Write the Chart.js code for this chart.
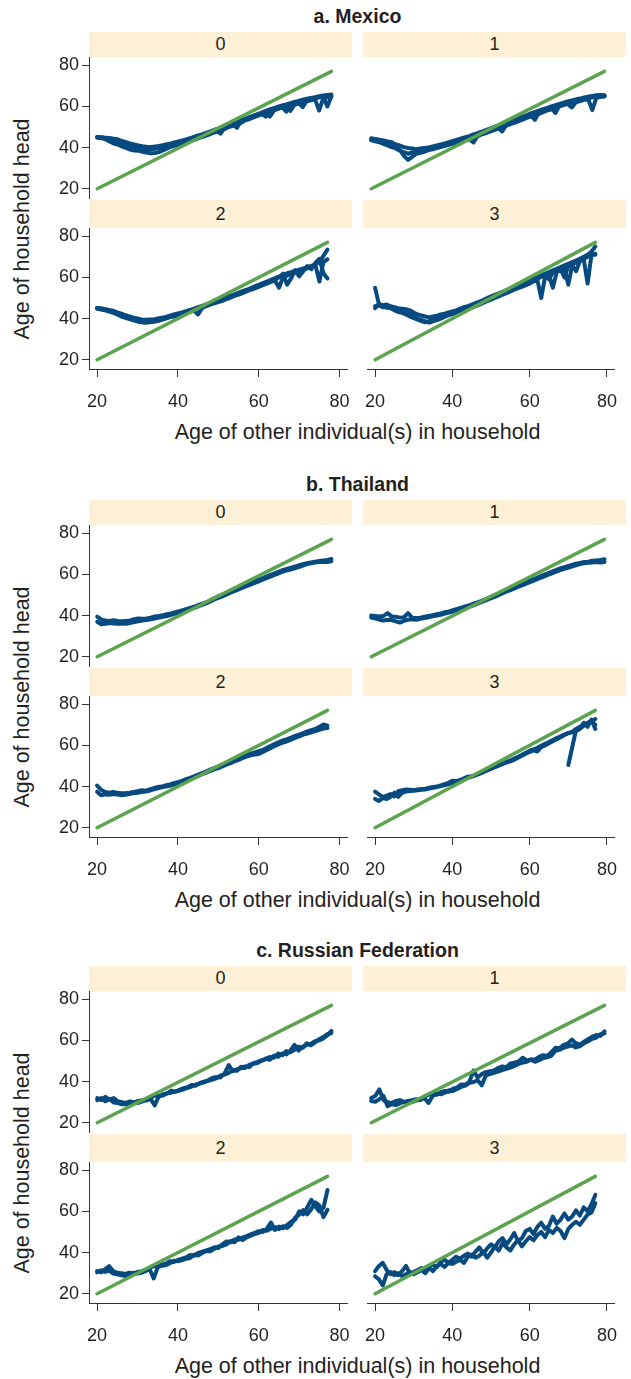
<!DOCTYPE html>
<html>
<head>
<meta charset="utf-8">
<script src="https://cdn.jsdelivr.net/npm/chart.js@4.4.1/dist/chart.umd.min.js"></script>
<style>
  body { margin: 0; background: #fff; width: 631px; height: 1379px; position: relative; overflow: hidden;
         font-family: "Liberation Sans", Arial, sans-serif; color: #231f20; }
  canvas { position: absolute; }
  .sec { position: absolute; left: 89px; width: 537px; text-align: center; font-weight: bold; font-size: 19.5px; line-height: 22px; }
  .strip { position: absolute; background: #fdf0d6; text-align: center; font-size: 18px; }
  .xt { position: absolute; left: 89px; width: 537px; text-align: center; font-size: 21.5px; line-height: 26px; }
  .yt { position: absolute; width: 300px; text-align: center; font-size: 21.5px; line-height: 26px; transform: rotate(-90deg); }
</style>
</head>
<body>
<script>
const ages = [20,21,22,23,24,25,26,27,28,29,30,31,32,33,34,35,36,37,38,39,40,41,42,43,44,45,46,47,48,49,
  50,51,52,53,54,55,56,57,58,59,60,61,62,63,64,65,66,67,68,69,70,71,72,73,74,75,76,77];
const diagX = [20, 77];
const diagY = [20, 77];
const xTicks = [20, 40, 60, 80];
const yTicks = [20, 40, 60, 80];
const panelNames = ["0", "1", "2", "3"];

// a. Mexico
const mex0a = [45.2,45.0,44.8,44.6,44.3,44.0,43.2,42.6,42.0,41.5, 41.0,40.6,40.4,40.3,40.5,40.8,41.2,41.6,42.0,42.6,
  43.1,43.6,44.2,44.8,45.5,46.1,46.8,47.5,48.2,48.9, 49.6,50.3,51.0,51.8,52.5,53.3,54.0,54.8,55.5,56.3,
  57.0,57.8,58.5,59.2,59.9,60.5,61.0,61.6,62.2,62.7, 63.2,63.7,64.1,64.5,65.0,65.3,65.6,65.8];
const mex0b = [44.8,44.6,44.0,43.0,42.0,41.5,40.5,39.8,39.0,38.6, 38.5,38.0,37.6,37.2,37.4,37.8,38.6,39.6,40.4,41.0,
  41.6,42.0,42.8,43.5,44.0,44.8,45.4,46.2,47.0,47.6, 48.6,49.0,50.0,50.6,51.5,52.0,53.2,53.8,54.6,55.4,
  56.2,57.0,55.0,58.0,58.8,59.5,60.0,57.8,60.8,61.4, 61.8,62.5,63.0,63.4,58.0,64.0,64.4,64.6];
const mex0c = [45.0,44.9,44.5,44.0,43.6,43.0,42.0,41.2,40.4,39.8, 39.5,39.2,39.0,39.2,39.4,39.8,40.2,40.8,41.4,42.0,
  42.4,43.0,43.6,44.0,44.8,45.4,46.2,46.8,47.4,48.2, 46.8,49.6,50.4,51.2,49.6,52.8,53.6,54.2,55.0,55.8,
  56.4,55.0,57.6,58.4,59.0,59.6,57.4,60.6,61.2,61.8, 59.6,62.8,63.2,63.8,64.4,64.8,60.0,65.0];
const mex1a = [44.5,44.2,43.8,43.4,43.0,42.6,41.5,41.0,40.2,39.8, 39.5,39.2,39.5,39.8,40.0,40.5,41.0,41.5,42.0,42.6,
  43.2,43.8,44.4,45.0,45.6,46.4,47.0,47.8,48.5,49.2, 50.0,50.6,51.4,52.0,52.8,53.6,54.3,55.0,55.8,56.6,
  57.3,58.0,58.7,59.3,60.0,60.6,61.2,61.8,62.4,62.9, 63.4,63.8,64.3,64.7,65.1,65.4,65.6,65.4];
const mex1b = [43.5,43.0,42.6,41.8,41.0,40.2,39.6,38.5,37.8,37.0, 37.6,38.0,38.2,38.6,39.0,39.4,40.0,40.5,41.0,41.5,
  42.0,42.6,43.2,43.8,44.3,45.0,45.6,46.4,47.0,47.8, 48.5,49.2,49.8,50.6,51.4,52.0,52.8,53.6,54.4,55.0,
  55.8,56.4,57.2,58.0,58.6,59.2,60.0,60.6,61.2,59.5, 62.0,62.6,63.2,63.6,58.2,64.2,64.6,64.8];
const mex1c = [44.0,43.5,43.0,42.4,41.8,40.5,40.0,39.0,36.0,34.0, 35.5,37.0,37.5,38.0,38.8,39.2,39.8,40.2,40.8,41.4,
  42.0,42.5,43.0,43.6,44.0,42.5,45.8,46.6,47.2,48.0, 48.8,49.5,47.8,51.0,51.8,52.5,53.4,54.2,55.0,55.6,
  53.5,57.2,57.8,58.5,59.2,56.8,60.4,61.0,61.6,62.0, 62.8,63.2,63.6,64.0,64.4,64.8,65.0,65.2];
const mex2a = [45.2,45.0,44.6,44.2,43.8,43.0,42.4,41.6,41.0,40.4, 40.0,39.6,39.4,39.5,39.6,40.0,40.4,40.8,41.4,42.0,
  42.5,43.0,43.6,44.2,44.8,45.5,46.2,46.9,47.6,48.3, 49.0,49.7,50.4,51.1,51.8,52.6,53.3,54.0,54.8,55.6,
  56.4,57.2,58.0,58.8,59.6,60.4,61.2,62.0,62.5,63.2, 63.8,64.4,65.0,65.6,66.4,67.5,70.5,73.5];
const mex2b = [44.8,44.4,44.0,43.4,42.8,42.0,41.0,40.4,39.8,39.2, 38.6,38.2,38.0,38.2,38.4,38.8,39.4,40.0,40.6,41.0,
  41.6,42.2,42.8,43.4,43.8,42.0,45.2,46.0,46.8,47.4, 48.0,48.6,49.4,50.2,51.0,51.6,52.4,53.2,54.0,54.6,
  55.4,56.2,57.0,57.8,58.6,55.0,60.0,60.8,61.6,62.4, 63.0,63.8,64.4,65.0,66.0,58.0,67.5,68.8];
const mex2c = [45.0,44.7,44.3,43.8,43.2,42.5,41.8,41.0,40.3,39.8, 39.3,39.0,38.8,39.0,39.2,39.5,39.9,40.4,41.0,41.6,
  42.0,42.6,43.2,43.8,44.3,45.0,45.7,46.4,47.1,47.8, 48.5,49.2,49.8,50.6,51.4,52.0,52.8,53.6,54.4,55.0,
  55.8,56.6,57.4,58.2,59.0,60.0,61.8,56.5,59.5,63.5, 60.5,63.0,65.5,64.0,67.0,69.0,62.0,59.5];
const mex3a = [55.0,47.0,46.5,46.8,46.0,45.5,45.0,44.8,44.5,44.0, 43.0,42.0,41.5,41.0,40.6,41.0,41.4,42.0,42.4,43.0,
  43.5,44.0,44.8,45.5,46.0,46.8,47.5,48.2,49.0,50.0, 50.8,51.5,52.2,53.0,53.8,54.6,55.5,56.2,57.0,57.8,
  58.6,59.4,60.2,61.0,61.8,62.6,63.4,64.2,65.0,65.8, 66.6,67.4,68.2,69.0,70.0,71.0,72.5,75.0];
const mex3b = [45.0,47.2,46.0,45.2,45.5,44.6,44.2,43.4,43.0,42.0, 41.2,40.0,39.4,38.6,38.0,38.6,39.2,40.0,40.8,41.6,
  42.2,43.0,43.4,44.2,44.8,45.4,46.0,46.8,47.6,48.4, 49.2,50.0,50.8,51.6,52.4,53.2,54.0,54.8,55.4,56.2,
  57.0,58.0,58.8,50.0,60.4,61.2,55.0,62.6,63.4,64.2, 56.5,66.0,63.0,68.0,68.8,57.0,71.0,71.5];
const mex3c = [46.0,46.5,45.5,46.0,45.0,44.0,43.2,42.8,42.0,41.0, 40.2,39.5,38.8,38.2,38.8,39.5,40.2,40.8,41.5,42.0,
  42.8,43.4,44.0,44.8,45.2,46.0,46.8,47.4,48.2,49.0, 49.8,50.6,51.4,52.2,53.0,53.6,54.6,55.4,56.2,57.0,
  57.8,58.6,59.4,60.2,61.0,59.0,62.6,63.4,64.0,60.0, 65.6,66.4,67.2,68.0,69.0,70.0,71.0,71.0];

// b. Thailand
const tha0a = [39.5,38.0,37.6,37.4,37.8,37.4,37.2,37.4,37.6,38.2, 38.6,38.4,38.6,39.0,39.6,39.8,40.2,40.6,41.0,41.6,
  42.2,42.8,43.4,44.0,44.6,45.4,46.0,46.8,48.0,48.9, 49.8,50.6,51.5,52.4,53.2,54.0,54.8,55.6,56.4,57.2,
  58.0,58.8,59.6,60.4,61.2,62.0,62.6,63.2,63.8,64.4, 65.0,65.4,65.8,66.2,66.5,66.8,67.0,67.5];
const tha0b = [37.0,35.8,36.0,36.4,36.2,36.0,36.2,36.0,36.4,36.8, 37.2,37.6,37.8,38.2,38.6,39.0,39.4,39.8,40.4,41.0,
  41.6,42.2,42.8,43.4,44.0,44.8,45.6,46.4,47.4,48.2, 49.0,49.8,50.7,51.6,52.4,53.2,54.0,54.8,55.6,56.4,
  57.2,58.0,58.8,59.6,60.4,61.2,61.8,62.4,63.0,63.6, 64.2,65.0,65.4,65.8,66.0,66.2,66.0,66.4];
const tha1a = [40.0,39.8,39.6,39.8,41.2,39.6,39.4,39.0,39.2,41.2, 39.0,38.8,39.0,39.4,39.8,40.2,40.6,41.0,41.6,42.0,
  42.6,43.2,43.8,44.4,45.0,45.8,46.4,47.2,48.0,48.9, 49.8,50.6,51.5,52.4,53.2,54.0,54.8,55.6,56.4,57.2,
  58.0,58.8,59.6,60.4,61.2,62.0,62.8,63.4,64.0,64.6, 65.2,65.6,66.0,66.2,66.6,66.8,67.0,67.4];
const tha1b = [39.0,38.6,38.0,37.6,38.0,37.8,37.2,36.6,37.4,38.0, 38.2,38.0,38.4,38.8,39.2,39.6,40.0,40.4,41.0,41.5,
  42.0,42.6,43.2,43.8,44.4,45.0,45.8,46.6,47.4,48.2, 49.0,49.8,50.7,51.6,52.4,53.2,54.0,54.8,55.6,56.4,
  57.2,58.0,58.8,59.6,60.4,61.2,62.0,62.6,63.2,63.8, 64.4,65.0,65.4,65.6,65.8,66.0,65.8,66.0];
const tha2a = [40.5,38.5,37.4,37.0,37.4,37.0,36.8,36.8,37.0,37.4, 37.8,38.2,38.0,38.6,39.2,39.8,40.0,40.6,41.0,41.6,
  42.2,42.8,43.6,44.2,45.0,45.8,46.6,47.4,48.2,49.0, 49.8,50.6,51.4,52.2,53.0,53.8,54.6,55.4,56.0,56.6,
  57.2,57.8,58.8,59.8,60.8,61.6,62.4,63.0,63.8,64.6, 65.2,66.0,66.8,67.4,68.0,69.0,70.2,69.6];
const tha2b = [37.5,35.8,36.2,36.0,36.4,36.2,35.8,36.0,36.4,36.8, 37.0,37.4,37.6,38.0,38.6,39.2,39.6,40.0,40.4,41.0,
  41.6,42.2,43.0,43.6,44.4,45.2,46.0,46.8,47.6,48.4, 49.0,49.8,50.6,51.4,52.2,53.0,53.8,54.6,55.2,55.6,
  55.8,56.8,57.8,58.8,59.8,60.6,61.4,62.0,62.8,63.6, 64.4,65.2,65.8,66.4,67.0,67.6,68.2,68.4];
const tha3a = [37.5,36.2,35.0,35.6,36.4,35.2,37.8,38.2,38.6,38.4, 38.2,38.6,38.8,39.0,39.4,39.8,40.0,40.6,41.2,41.8,
  42.8,42.6,43.2,44.0,44.8,45.0,45.6,46.4,47.2,48.0, 48.8,49.6,50.4,51.2,52.0,52.8,53.6,54.4,55.4,56.4,
  57.4,58.0,58.8,59.8,60.8,61.6,62.6,63.6,64.4,65.2, 66.0,66.6,68.0,69.0,70.0,71.0,72.0,72.8];
const tha3b = [34.0,33.0,34.4,34.0,35.0,37.0,35.0,37.0,37.6,37.8, 38.0,38.2,38.4,38.6,39.0,39.4,39.8,40.2,40.6,41.2,
  41.6,42.2,42.8,43.6,44.2,44.8,45.6,46.2,47.0,47.8, 48.6,49.4,50.2,51.0,51.6,52.2,53.0,54.0,55.0,56.0,
  56.8,57.6,57.0,59.2,60.0,61.0,62.0,63.0,64.0,65.0, 66.0,66.4,67.0,68.0,71.0,69.0,72.5,68.0];
const tha3c = [null,null,null,null,null,null,null,null,null,null, null,null,null,null,null,null,null,null,null,null,
  null,null,null,null,null,null,null,null,null,null, null,null,null,null,null,null,null,null,null,null,
  null,null,null,null,null,null,null,null,null,null, 50.5,59.0,67.5,68.2,69.5,70.5,71.8,70.0];

// c. Russian Federation
const rus0a = [32.0,31.0,32.6,31.2,32.0,30.4,30.0,29.6,30.4,29.8, 30.6,31.0,30.8,32.0,33.4,32.6,33.8,34.2,35.6,35.0,
  36.0,36.8,37.2,38.4,38.0,39.4,40.0,40.6,41.8,42.2, 42.0,44.0,48.0,45.0,46.0,46.4,47.4,47.0,49.0,49.6,
  50.0,51.2,50.6,52.6,52.0,53.6,53.2,55.0,57.8,55.0, 57.0,57.8,58.4,59.6,60.0,61.0,62.4,64.6];
const rus0b = [31.0,32.0,30.4,31.6,29.8,29.6,29.0,29.0,29.4,30.0, 29.6,30.4,31.2,31.6,28.4,33.0,33.2,34.4,34.6,35.2,
  35.6,36.2,37.0,37.6,38.6,39.0,39.6,40.4,41.0,41.6, 43.0,43.4,44.2,45.6,45.2,47.2,46.6,48.2,48.6,49.0,
  50.4,50.8,52.0,51.6,53.6,52.8,54.8,54.2,55.4,57.0, 56.4,58.6,57.6,59.0,60.6,61.6,63.0,63.6];
const rus1a = [32.0,33.0,36.2,31.0,30.0,29.6,30.6,31.0,30.0,30.6, 31.0,31.4,31.0,32.6,33.6,34.0,33.6,34.8,35.4,35.0,
  36.6,37.2,38.6,38.4,40.0,45.4,42.0,43.6,44.6,45.0, 45.4,46.6,47.4,47.0,48.8,49.2,49.8,51.6,50.2,50.8,
  50.6,52.0,52.8,52.4,54.2,56.4,56.2,57.8,58.4,60.4, 58.6,58.0,59.4,60.6,61.8,62.6,62.2,64.4];
const rus1b = [30.6,30.2,31.4,33.0,28.0,29.0,28.6,29.4,30.2,29.6, 30.0,30.8,31.2,32.0,29.6,33.0,34.2,33.8,34.6,35.8,
  35.4,36.4,37.4,38.0,39.4,39.8,40.6,38.2,43.0,43.6, 44.2,44.8,45.6,46.2,46.8,47.6,48.6,49.2,49.6,50.6,
  49.6,50.4,51.4,51.8,52.6,55.0,55.4,56.4,57.0,57.6, 56.6,57.2,58.6,59.6,60.8,61.4,63.0,63.4];
const rus2a = [31.0,30.4,32.0,33.4,31.0,30.2,30.0,29.6,30.2,29.8, 30.6,31.0,31.6,32.6,33.4,33.0,34.2,34.6,35.8,35.4,
  36.4,37.0,37.6,38.8,38.4,39.8,40.4,41.0,41.6,42.6, 42.2,44.0,45.4,45.0,46.4,46.2,47.4,48.0,48.8,49.6,
  50.4,50.0,51.6,54.6,51.0,52.6,51.8,53.4,55.0,56.0, 60.0,58.6,62.0,65.6,62.4,60.0,61.8,70.4];
const rus2b = [30.4,31.4,30.6,31.2,29.8,29.4,29.0,28.6,29.4,30.2, 29.8,30.2,31.0,32.0,27.4,32.8,33.6,33.8,34.8,36.0,
  35.8,36.4,37.0,37.4,39.0,38.6,39.8,40.8,40.6,41.8, 43.0,43.2,44.0,45.6,45.0,47.4,46.0,47.4,48.2,49.0,
  49.6,51.0,50.6,51.6,52.4,51.4,52.8,52.0,53.6,57.0, 58.4,60.6,58.6,61.2,64.4,62.8,57.2,60.8];
const rus3a = [31.0,33.5,35.0,31.5,29.5,30.5,29.0,31.0,33.5,30.0, 30.5,31.5,32.5,31.0,33.5,34.0,33.0,35.5,36.5,35.0,
  36.5,38.0,37.0,38.5,39.5,38.0,40.5,42.5,39.5,42.0, 44.0,42.5,45.5,47.0,44.0,46.5,49.5,45.5,47.0,50.5,
  51.5,49.0,52.5,54.5,51.5,53.0,57.5,54.0,56.0,59.0, 56.0,57.5,60.5,58.0,62.0,60.0,63.5,68.0];
const rus3b = [28.5,27.0,24.0,29.5,30.5,29.0,30.0,28.5,29.5,30.5, 29.5,30.5,31.5,30.0,32.5,31.0,33.5,34.5,33.0,35.0,
  34.5,35.5,36.5,35.0,38.0,39.0,37.5,38.5,40.5,37.5, 40.0,43.0,41.0,44.5,42.5,41.0,44.0,46.0,43.0,45.5,
  47.5,46.0,48.5,50.0,47.5,51.0,49.5,52.0,50.5,47.0, 51.5,53.5,55.0,53.5,56.0,58.5,59.5,64.0];

const sections = [
  { top: 0, title: "a. Mexico", panels: [[mex0a, mex0b, mex0c], [mex1a, mex1b, mex1c], [mex2a, mex2b, mex2c], [mex3a, mex3b, mex3c]] },
  { top: 468, title: "b. Thailand", panels: [[tha0a, tha0b], [tha1a, tha1b], [tha2a, tha2b], [tha3a, tha3b, tha3c]] },
  { top: 934, title: "c. Russian Federation", panels: [[rus0a, rus0b], [rus1a, rus1b], [rus2a, rus2b], [rus3a, rus3b]] }
];

const blue = "#074a80";
const green = "#5ca34f";
const axisCol = "#333333";
const textCol = "#231f20";
const fontFam = '"Liberation Sans", Arial, sans-serif';

function addDiv(cls, text, css) {
  const d = document.createElement("div");
  d.className = cls;
  d.textContent = text;
  Object.assign(d.style, css);
  document.body.appendChild(d);
}

// plot area of every panel: 141px high, starting 57 (row 0) or 228 (row 1) below the section top
function makePanel(S, idx, series) {
  const row = Math.floor(idx / 2), col = idx % 2;
  const showX = row === 1, showY = col === 0;
  const c = document.createElement("canvas");
  const left = col === 0 ? 0 : 351;
  const width = col === 0 ? 364 : 280;
  const top = row === 0 ? S + 43 : S + 214;
  const height = row === 0 ? 169 : 205;
  c.width = width; c.height = height;
  c.style.left = left + "px"; c.style.top = top + "px";
  document.body.appendChild(c);

  addDiv("strip", panelNames[idx], {
    left: (col === 0 ? 89 : 363) + "px", width: "263px",
    top: (row === 0 ? S + 32 : S + 200) + "px",
    height: (row === 0 ? 25 : 28) + "px",
    lineHeight: (row === 0 ? 25 : 28) + "px"
  });

  const datasets = [{
    data: diagX.map((x, i) => ({ x: x, y: diagY[i] })),
    borderColor: green, borderWidth: 3.5
  }];
  series.forEach(s => {
    datasets.push({
      data: ages.map((x, i) => ({ x: x, y: s[i] })),
      borderColor: blue, borderWidth: 4
    });
  });

  new Chart(c, {
    type: "line",
    data: { datasets: datasets },
    options: {
      responsive: false, animation: false, devicePixelRatio: 1,
      layout: { padding: { top: 14, bottom: showX ? 0 : 14, left: col === 0 ? 0 : 12, right: col === 0 ? 12 : 6 } },
      plugins: { legend: { display: false }, tooltip: { enabled: false } },
      elements: {
        point: { radius: 0 },
        line: { tension: 0, borderJoinStyle: "round", borderCapStyle: "round" }
      },
      scales: {
        x: {
          type: "linear", min: 18, max: 82, display: showX,
          afterBuildTicks: s => { s.ticks = xTicks.map(v => ({ value: v })); },
          afterFit: s => { if (showX) s.height = 50; },
          grid: { drawOnChartArea: false, drawTicks: true, tickLength: 8, tickColor: axisCol, tickWidth: 1 },
          border: { display: true, color: axisCol, width: 1 },
          ticks: { padding: 14, font: { size: 18, family: fontFam }, color: textCol, maxRotation: 0 }
        },
        y: {
          type: "linear", min: 15.5, max: 84, display: showY,
          afterBuildTicks: s => { s.ticks = yTicks.map(v => ({ value: v })); },
          afterFit: s => { if (showY) s.width = 89; },
          grid: { drawOnChartArea: false, drawTicks: true, tickLength: 7, tickColor: axisCol, tickWidth: 1 },
          border: { display: true, color: axisCol, width: 1 },
          ticks: { padding: 3, font: { size: 18, family: fontFam }, color: textCol }
        }
      }
    }
  });
}

sections.forEach(sec => {
  const S = sec.top;
  addDiv("sec", sec.title, { top: (S + 5) + "px" });
  addDiv("xt", "Age of other individual(s) in household", { top: (S + 419) + "px" });
  addDiv("yt", "Age of household head", { left: (22 - 150) + "px", top: (S + 229 - 13) + "px" });
  sec.panels.forEach((p, i) => makePanel(S, i, p));
});
</script>
</body>
</html>
